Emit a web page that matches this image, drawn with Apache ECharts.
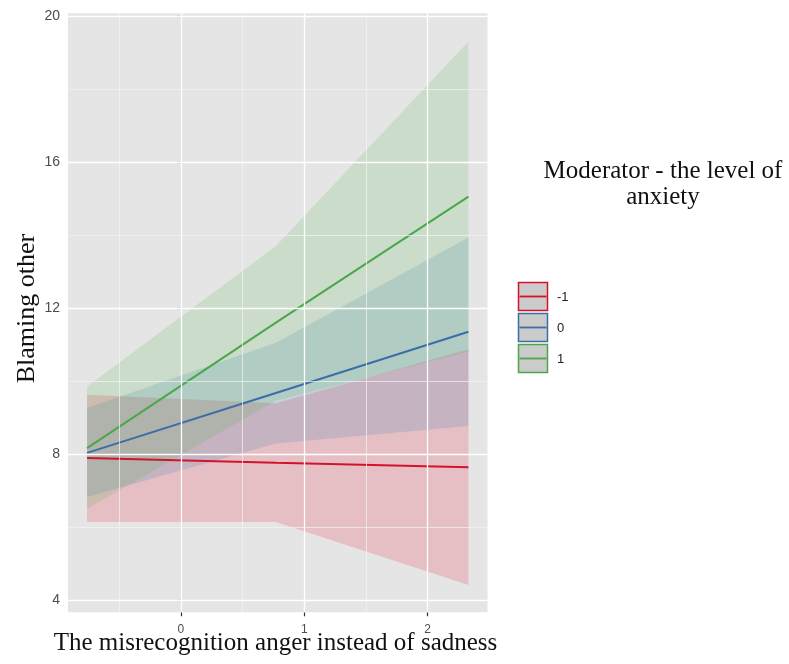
<!DOCTYPE html>
<html>
<head>
<meta charset="utf-8">
<script src="https://cdn.jsdelivr.net/npm/echarts@6/dist/echarts.min.js"></script>
<style>
html,body{margin:0;padding:0;background:#fff;}
#chart{width:789px;height:664px;}
</style>
</head>
<body>
<div id="chart"></div>
<script>
// ---- data ----
const xVals = [-0.76, 0.77, 2.33];
const groups = ['-1', '0', '1'];
const redFit = [7.89, 7.76, 7.64];
const redLower = [6.14, 6.14, 4.41];
const redUpper = [9.62, 9.39, 10.87];
const blueFit = [8.03, 9.67, 11.35];
const blueLower = [6.82, 8.29, 8.77];
const blueUpper = [9.26, 11.05, 13.93];
const greenFit = [8.16, 11.6, 15.05];
const greenLower = [6.5, 9.46, 10.8];
const greenUpper = [9.85, 13.7, 19.3];
const xTicks = [0, 1, 2];
const yTicks = [4, 8, 12, 16, 20];
const xMinor = [-0.5, 0.5, 1.5];
const yMinor = [6, 10, 14, 18];
const xTitle = 'The misrecognition anger instead of sadness';
const yTitle = 'Blaming other';
const legendTitle = 'Moderator - the level of\nanxiety';

const lineColors = ['#d4122a', '#3b6ea6', '#4aa84a'];
const fillColors = ['#e8293f', '#377eb8', '#4daf4a'];
const fillAlpha = [0.2, 0.18, 0.17];

const chart = echarts.init(document.getElementById('chart'), null, {renderer: 'canvas'});

const fits = [redFit, blueFit, greenFit];
const lowers = [redLower, blueLower, greenLower];
const uppers = [redUpper, blueUpper, greenUpper];

const series = [];
// grid lines as markLines
series.push({
  type: 'line', data: [], z: 1, silent: true,
  markLine: {
    silent: true, symbol: ['none', 'none'], label: {show: false}, animation: false,
    emphasis: {disabled: true},
    data: [
      ...xMinor.map(v => ({xAxis: v, lineStyle: {color: '#f4f4f4', width: 0.7, type: 'solid'}})),
      ...yMinor.map(v => ({yAxis: v, lineStyle: {color: '#f4f4f4', width: 0.7, type: 'solid'}})),
      ...xTicks.map(v => ({xAxis: v, lineStyle: {color: '#ffffff', width: 1.3, type: 'solid'}})),
      ...yTicks.map(v => ({yAxis: v, lineStyle: {color: '#ffffff', width: 1.3, type: 'solid'}}))
    ]
  }
});
// ribbons (custom polygons through the axis scales)
for (let g = 0; g < 3; g++) {
  const color = fillColors[g];
  const alpha = fillAlpha[g];
  series.push({
    type: 'custom', z: 2, silent: true,
    data: xVals.map((x, i) => [x, lowers[g][i], uppers[g][i]]),
    encode: {x: 0, y: [1, 2]},
    renderItem: function (params, api) {
      if (params.dataIndex !== 0) return null;
      const n = params.dataInsideLength;
      const top = [], bot = [];
      for (let i = 0; i < n; i++) {
        top.push(api.coord([api.value(0, i), api.value(2, i)]));
        bot.push(api.coord([api.value(0, i), api.value(1, i)]));
      }
      const pts = top.concat(bot.reverse());
      return {type: 'polygon', shape: {points: pts}, style: {fill: color, opacity: alpha}};
    }
  });
}
// fitted lines
for (let g = 0; g < 3; g++) {
  series.push({
    type: 'line', name: groups[g], z: 3, silent: true, symbol: 'none',
    lineStyle: {color: lineColors[g], width: 2},
    data: xVals.map((x, i) => [x, fits[g][i]])
  });
}

const keyTop = 282, keyStep = 31, keyX = 518.5;
const graphics = [
  {type: 'text', x: 275.5, y: 643, style: {text: xTitle, font: '25px "Liberation Serif"', fill: '#111', textAlign: 'center', textVerticalAlign: 'middle'}},
  {type: 'text', x: 27, y: 308.5, rotation: Math.PI / 2, style: {text: yTitle, font: '26px "Liberation Serif"', fill: '#111', textAlign: 'center', textVerticalAlign: 'middle'}},
  {type: 'text', x: 663, y: 184, style: {text: legendTitle, font: '25px "Liberation Serif"', fill: '#111', textAlign: 'center', textVerticalAlign: 'middle', lineHeight: 26}}
];
for (let g = 0; g < 3; g++) {
  const top = keyTop + g * keyStep;
  graphics.push({type: 'rect', shape: {x: keyX, y: top + 0.5, width: 29, height: 28}, style: {fill: '#cbcbcb', stroke: lineColors[g], lineWidth: 1.5}});
  graphics.push({type: 'line', shape: {x1: keyX + 1, y1: top + 14.5, x2: keyX + 28, y2: top + 14.5}, style: {stroke: lineColors[g], lineWidth: 1.8}});
  graphics.push({type: 'text', x: 557, y: top + 15, style: {text: groups[g], font: '13px "Liberation Sans"', fill: '#222', textAlign: 'left', textVerticalAlign: 'middle'}});
}

chart.setOption({
  animation: false,
  backgroundColor: '#ffffff',
  grid: {left: 68, right: 301.5, top: 13.3, bottom: 51.7, show: true, backgroundColor: '#e5e5e5', borderWidth: 0},
  xAxis: {
    type: 'value', min: -0.9145, max: 2.4845,
    axisLine: {show: false},
    splitLine: {show: false},
    axisTick: {show: true, length: 4, lineStyle: {color: '#333', width: 1.2}, customValues: xTicks},
    axisLabel: {customValues: xTicks, margin: 11, color: '#4d4d4d', fontSize: 12, fontFamily: 'Liberation Sans'}
  },
  yAxis: {
    type: 'value', min: 3.665, max: 20.07,
    axisLine: {show: false},
    splitLine: {show: false},
    axisTick: {show: true, length: 4, lineStyle: {color: '#333', width: 1.2}, customValues: yTicks},
    axisLabel: {customValues: yTicks, margin: 8, color: '#4d4d4d', fontSize: 14, fontFamily: 'Liberation Sans'}
  },
  series: series,
  graphic: graphics
});
</script>
</body>
</html>
